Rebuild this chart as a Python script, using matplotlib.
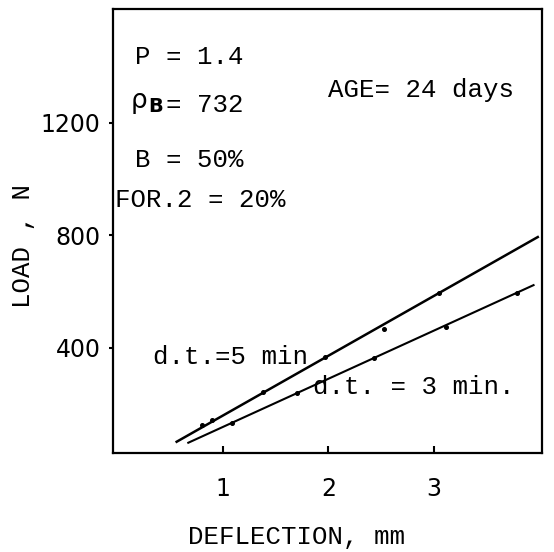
import matplotlib
matplotlib.use("Agg")
import matplotlib.pyplot as plt

# ── Data ───────────────────────────────────────────────────────────────────
# d.t. = 5 min series
pts5_x = [0.80, 0.90, 1.38, 1.97, 2.53, 3.05]
pts5_y = [124, 142, 243, 366, 466, 594]
fit5_x = [0.565, 3.98]
fit5_y = [65, 793]

# d.t. = 3 min series
pts3_x = [1.09, 1.70, 2.43, 3.11, 3.78]
pts3_y = [130, 237, 363, 474, 593]
fit3_x = [0.675, 3.94]
fit3_y = [61.5, 622]

x_ticks = [1, 2, 3]
x_ticklabels = ["1", "2", "3"]
y_ticks = [400, 800, 1200]
y_ticklabels = ["400", "800", "1200"]

MONO = "Liberation Mono"
W, H = 554, 552


def fx(px):
    return px / W


def fy(py):
    return 1 - py / H


fig = plt.figure(figsize=(W / 100, H / 100), dpi=100)
ax = fig.add_axes([113 / W, 1 - 453 / H, (542 - 113) / W, (453 - 9) / H])

ax.plot(fit5_x, fit5_y, color="black", linewidth=1.8)
ax.plot(fit3_x, fit3_y, color="black", linewidth=1.5)
ax.plot(pts5_x, pts5_y, "o", color="black", markersize=2.6)
ax.plot(pts3_x, pts3_y, "o", color="black", markersize=2.6)

ax.set_xlim(-0.037, 4.02)
ax.set_ylim(25, 1604)

ax.set_xticks(x_ticks, x_ticklabels, fontsize=17, family="DejaVu Sans")
ax.set_yticks(y_ticks, y_ticklabels, fontsize=17, family="DejaVu Sans")
ax.tick_params(axis="x", direction="in", length=5, width=1.5, pad=17)
ax.tick_params(axis="y", direction="out", length=3, width=1.5, pad=6)
for s in ax.spines.values():
    s.set_linewidth(1.6)

# ── Annotations ────────────────────────────────────────────────────────────
kw = dict(family=MONO, fontsize=18.5, va="center", ha="left")
fig.text(fx(131), fy(101), "ρ", family="DejaVu Sans", fontsize=19,
         va="center", ha="left")
fig.text(fx(148), fy(107), "B", family="DejaVu Sans", fontsize=14,
         weight="bold", va="center", ha="left")
fig.text(fx(166), fy(105), "= 732", **kw)
fig.text(fx(135), fy(57), "P = 1.4", **kw)
fig.text(fx(135), fy(160), "B = 50%", **kw)
fig.text(fx(115), fy(200), "FOR.2 = 20%", **kw)
fig.text(fx(328), fy(90), "AGE= 24 days", **kw)
fig.text(fx(153), fy(357), "d.t.=5 min", **kw)
fig.text(fx(313), fy(387), "d.t. = 3 min.", **kw)

fig.text(fx(296), fy(537), "DEFLECTION, mm", family=MONO, fontsize=18.5,
         ha="center", va="center")
fig.text(fx(23), fy(246), "LOAD , N", family=MONO, fontsize=18.5,
         ha="center", va="center", rotation=90)

fig.savefig("out.png", dpi=100)
